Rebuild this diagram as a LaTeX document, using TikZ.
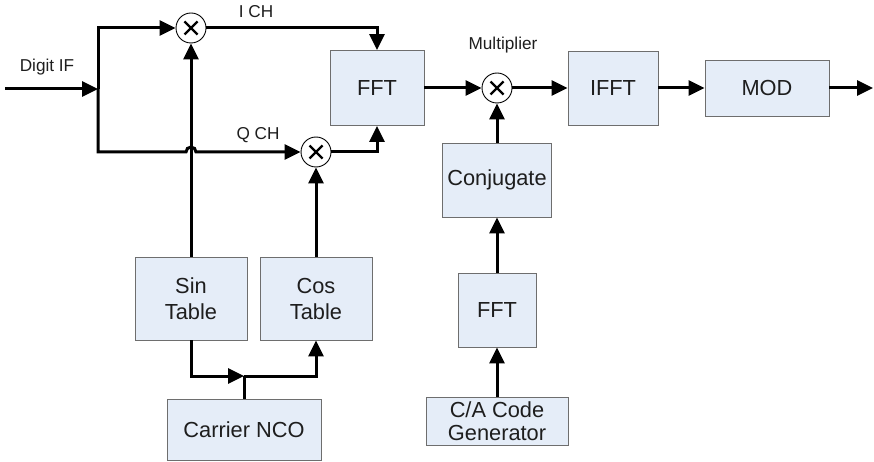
\documentclass[tikz,border=0pt]{standalone}
\usepackage{fontspec}
\setmainfont{Liberation Sans}
\usetikzlibrary{arrows.meta,calc}
\definecolor{boxfill}{HTML}{E5EDF8}
\definecolor{boxline}{HTML}{6E6E6E}
\definecolor{txt}{HTML}{1E1E1E}
\begin{document}
\begin{tikzpicture}[x=1pt,y=-1pt,
  blk/.style={draw=boxline, line width=0.9pt, fill=boxfill, inner sep=0pt, align=center,
    text=txt, font=\fontsize{21.8}{26}\selectfont},
  mul/.style={circle, draw, line width=0.9pt, fill=white, minimum size=30pt, inner sep=0pt,
    path picture={
      \draw[line width=2.4pt] ([shift={(-6.5pt,-6.5pt)}]path picture bounding box.center) -- ([shift={(6.5pt,6.5pt)}]path picture bounding box.center);
      \draw[line width=2.4pt] ([shift={(-6.5pt,6.5pt)}]path picture bounding box.center) -- ([shift={(6.5pt,-6.5pt)}]path picture bounding box.center);
    }},
  wire/.style={line width=3pt},
  arr/.style={wire, -{Triangle[length=16pt 0 0,width=15pt 0 0]}},
  lbl/.style={font=\fontsize{17.2}{20}\selectfont, inner sep=0pt, anchor=base, text=txt}
]
\useasboundingbox (0,0) rectangle (874,462);

% blocks
\node[blk, minimum width=94pt, minimum height=75pt] (fft1) at (377,88) {FFT};
\node[mul] (mult) at (497,88) {};
\node[blk, minimum width=90pt, minimum height=74pt] (ifft) at (613,88) {IFFT};
\node[blk, minimum width=124pt, minimum height=56pt] (mod) at (767,88) {MOD};
\node[blk, minimum width=109pt, minimum height=74pt] (conj) at (497,180) {Conjugate};
\node[blk, minimum width=78pt, minimum height=74pt] (fft2) at (497,310) {FFT};
\node[blk, minimum width=142pt, minimum height=48pt, font=\fontsize{21.8}{23}\selectfont] (ca) at (497,421) {C/A Code\\Generator};
\node[blk, minimum width=112pt, minimum height=83pt] (sin) at (191,298.5) {Sin\\Table};
\node[blk, minimum width=112pt, minimum height=83pt] (cos) at (316,298.5) {Cos\\Table};
\node[blk, minimum width=154pt, minimum height=61pt] (nco) at (244,429.5) {Carrier NCO};
\node[mul] (m1) at (191,28) {};
\node[mul] (m2) at (316,152) {};

% labels
\node[lbl] (digitif) at (47,72) {Digit IF};
\node[lbl] (ich) at (256,18) {I CH};
\node[lbl] (qch) at (258,140) {Q CH};
\node[lbl] (multlbl) at (503,50) {Multiplier};

% coordinates
\coordinate (in) at (5,89);
\coordinate (split) at (98,89);
\coordinate (hopL) at ($(sin.north |- m2.center)+(-5pt,0)$);
\coordinate (jn) at (nco.north |- 0,376);
\coordinate (out) at (873,88);

% connectors
\draw[arr] (in) -- (split);
\draw[arr] (split) |- (m1);
\draw[arr] (split) |- (hopL) arc[start angle=180, end angle=0, radius=5pt] -- (m2);
\draw[arr] (sin) -- (m1);
\draw[arr] (cos) -- (m2);
\draw[arr] (m1) -| (fft1);
\draw[arr] (m2) -| (fft1);
\draw[arr] (fft1) -- (mult);
\draw[arr] (mult) -- (ifft);
\draw[arr] (ifft) -- (mod);
\draw[arr] (mod) -- (out);
\draw[arr] (conj) -- (mult);
\draw[arr] (fft2) -- (conj);
\draw[arr] (ca) -- (fft2);
\draw[arr] (sin) |- (jn);
\draw[wire] (nco) -- (jn);
\draw[arr] (jn) -| (cos);
\end{tikzpicture}
\end{document}
